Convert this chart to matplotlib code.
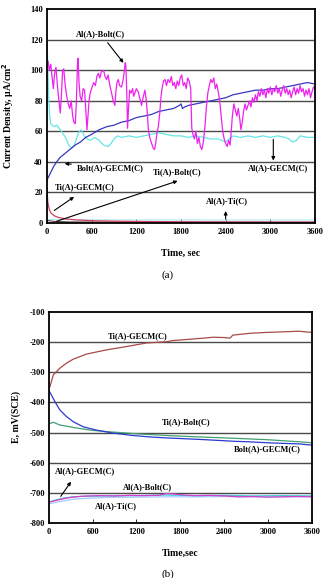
import matplotlib
matplotlib.use("Agg")
import matplotlib.pyplot as plt

plt.rcParams['font.family'] = ['Liberation Serif', 'DejaVu Serif']
plt.rcParams['font.weight'] = 'bold'

# ---- (a) current density, uA/cm2 ----
al_bolt_t = [0, 15, 30, 50, 70, 85, 100, 120, 140, 160, 178, 195, 210, 225, 245, 265, 285, 305, 325, 345,
             360, 380, 395, 410, 418, 430, 445, 465, 485, 505, 520, 537, 550, 565, 580, 600, 626, 650, 670, 690,
             710, 730, 760, 780, 800, 820, 845, 868, 890, 912, 925, 940, 957, 975, 1000, 1020, 1035, 1050, 1060, 1072,
             1082, 1095, 1110, 1130, 1150, 1165, 1180, 1200, 1225, 1245, 1270, 1290, 1315, 1335, 1350, 1362, 1380, 1405, 1427, 1445,
             1460, 1475, 1495, 1515, 1530, 1545, 1565, 1586, 1605, 1625, 1650, 1670, 1690, 1710, 1730, 1750, 1770, 1790, 1810, 1830,
             1850, 1870, 1890, 1910, 1930, 1945, 1960, 1980, 2000, 2020, 2040, 2060, 2080, 2100, 2120, 2140, 2160, 2180, 2200, 2220,
             2240, 2260, 2280, 2300, 2320, 2340, 2360, 2380, 2400, 2420, 2440, 2460, 2475, 2490, 2510, 2530, 2550, 2570, 2590, 2605,
             2620, 2640, 2660, 2680, 2700, 2720, 2740, 2760, 2780, 2800, 2820, 2840, 2860, 2880, 2900, 2920, 2940, 2960, 2980, 3000,
             3020, 3040, 3060, 3080, 3100, 3120, 3140, 3160, 3180, 3200, 3220, 3240, 3260, 3280, 3300, 3320, 3340, 3360, 3380, 3400,
             3420, 3440, 3460, 3480, 3500, 3520, 3540, 3560, 3580, 3600]
al_bolt_i = [103, 106, 100, 104, 95, 88, 97, 102, 90, 80, 72, 85, 100, 101, 90, 83, 78, 75, 80, 70,
             66, 65, 80, 105, 108, 92, 83, 80, 88, 87, 75, 61, 70, 80, 85, 88, 92, 90, 96, 98,
             95, 99, 100, 96, 94, 97, 90, 85, 80, 77, 86, 92, 94, 90, 89, 93, 98, 105, 103, 85,
             62, 75, 87, 85, 88, 83, 85, 88, 86, 82, 77, 82, 87, 80, 70, 61, 56, 52, 49, 48,
             52, 58, 63, 72, 82, 88, 93, 94, 90, 94, 92, 96, 90, 92, 88, 93, 90, 95, 97, 90,
             92, 88, 95, 93, 88, 62, 58, 55, 60, 52, 56, 50, 48, 53, 62, 75, 85, 90, 94, 92,
             95, 88, 91, 86, 80, 70, 60, 55, 52, 50, 54, 51, 60, 70, 78, 74, 70, 75, 68, 61,
             65, 73, 78, 74, 77, 80, 76, 82, 79, 84, 80, 86, 83, 88, 84, 87, 82, 88, 85, 89,
             84, 88, 86, 90, 85, 88, 83, 87, 90, 85, 88, 84, 87, 82, 86, 89, 84, 88, 85, 90,
             86, 88, 83, 87, 84, 88, 82, 86, 89, 88]

bolt_gecm_t = [0, 30, 60, 90, 130, 180, 230, 280, 330, 380, 450, 520, 600, 700, 800, 900, 1000, 1100, 1200, 1300,
               1400, 1500, 1600, 1700, 1780, 1800, 1820, 1850, 1900, 2000, 2100, 2200, 2300, 2400, 2500, 2600, 2700, 2800, 2900, 3000,
               3100, 3200, 3300, 3400, 3500, 3600]
bolt_gecm_i = [28, 31, 34, 37, 40, 43, 45, 47, 49, 51, 53, 56, 58, 61, 63, 64, 66, 67, 69, 70,
               71, 73, 74, 75, 77, 78, 75, 76, 77, 78, 79, 80, 81, 82, 84, 85, 86, 87, 87, 88,
               88, 89, 90, 91, 92, 91]

al_gecm_t = [0, 10, 20, 35, 50, 90, 130, 180, 220, 250, 290, 330, 360, 390, 420, 460, 500, 540, 580, 640,
             700, 760, 820, 860, 900, 950, 1000, 1100, 1200, 1300, 1400, 1500, 1600, 1700, 1800, 1900, 2000, 2100, 2200, 2300,
             2400, 2450, 2500, 2600, 2700, 2800, 2900, 3000, 3100, 3200, 3250, 3300, 3350, 3400, 3500, 3600]
al_gecm_i = [121, 105, 85, 70, 65, 63, 64, 61, 58, 56, 51, 49, 50, 54, 59, 61, 57, 55, 54, 56,
             54, 51, 50, 52, 55, 57, 56, 57, 56, 57, 58, 59, 58, 57, 57, 56, 57, 56, 55, 55,
             53, 55, 57, 56, 57, 56, 57, 56, 57, 56, 55, 53, 54, 57, 56, 56]

ti_gecm_t = [0, 5, 10, 20, 35, 60, 100, 150, 250, 400, 600, 900, 1200, 1800, 2400, 3000, 3600]
ti_gecm_i = [22, 18, 14, 11, 8, 6, 4.5, 3.5, 2.5, 1.8, 1.3, 1.0, 0.8, 0.6, 0.5, 0.4, 0.4]

ti_bolt_t = [0, 100, 300, 1200, 3600]
ti_bolt_i = [1.5, 0.8, 0.5, 0.3, 0.3]

al_ti_t = [0, 300, 1200, 2400, 3600]
al_ti_i = [2.2, 2.0, 1.8, 1.8, 1.8]

# ---- (b) potential, mV(SCE) ----
ti_gecm_et = [0, 14, 59, 150, 242, 333, 516, 790, 1064, 1338, 1612, 1700, 2069, 2250, 2400, 2480, 2520, 2750, 2980, 3200,
              3430, 3600]
ti_gecm_e = [-352, -348, -309, -286, -269, -256, -239, -225, -214, -202, -198, -194, -187, -183, -184, -186, -176, -170, -167, -165,
             -163, -167]

bolt_gecm_et = [0, 14, 82, 150, 242, 333, 470, 653, 882, 1154, 1400, 1612, 1800, 2069, 2300, 2525, 2750, 2982, 3200, 3440,
                3600]
bolt_gecm_e = [-362, -366, -397, -425, -447, -464, -481, -492, -502, -510, -515, -518, -520, -523, -526, -529, -531, -534, -536, -538,
               -542]

ti_bolt_et = [0, 14, 59, 150, 333, 562, 790, 1247, 1700, 2100, 2525, 3000, 3440, 3600]
ti_bolt_e = [-472, -470, -466, -475, -483, -492, -497, -505, -511, -515, -519, -524, -531, -534]

al_bolt_et = [0, 14, 80, 150, 250, 333, 450, 562, 700, 900, 1100, 1300, 1500, 1610, 1700, 1850, 2000, 2200, 2400, 2600,
              2800, 3000, 3200, 3400, 3600]
al_bolt_e = [-733, -731, -727, -723, -718, -715, -712, -711, -710, -711, -709, -710, -709, -703, -704, -708, -710, -709, -711, -714,
             -713, -715, -714, -713, -714]

al_gecm_et = [0, 14, 100, 200, 333, 500, 800, 1200, 1600, 2000, 2400, 2800, 3200, 3600]
al_gecm_e = [-732, -731, -724, -718, -714, -712, -711, -710, -708, -710, -709, -711, -710, -711]

al_ti_et = [0, 14, 100, 200, 333, 500, 800, 1200, 1600, 2000, 2400, 2800, 3200, 3600]
al_ti_e = [-738, -737, -732, -728, -722, -719, -716, -715, -714, -714, -713, -714, -714, -713]

x_ticks = [0, 600, 1200, 1800, 2400, 3000, 3600]

fig = plt.figure(figsize=(3.26, 5.78), dpi=100)
ax1 = fig.add_axes([0.1442, 0.6147, 0.822, 0.369])
ax2 = fig.add_axes([0.150, 0.0957, 0.806, 0.364])

tick_kw = dict(fontsize=6, fontweight='bold')
txt_kw = dict(fontsize=6, fontweight='bold')
arrow_kw = dict(arrowstyle='-|>', color='black', lw=0.8, mutation_scale=5)


def style(ax, ylim, yticks):
    ax.set_xlim(0, 3600)
    ax.set_ylim(*ylim)
    ax.set_xticks(x_ticks)
    ax.set_yticks(yticks)
    ax.set_xticklabels([str(t) for t in x_ticks], **tick_kw)
    ax.set_yticklabels([str(v) for v in yticks], **tick_kw)
    ax.tick_params(axis='x', direction='in', length=3, width=0.6, pad=4)
    ax.tick_params(axis='y', length=0, pad=3)
    for yv in yticks[1:-1]:
        ax.axhline(yv, color='#4a4a4a', lw=1.0, zorder=0)
    for s in ax.spines.values():
        s.set_linewidth(1.3)


# (a)
ax1.plot(ti_bolt_t, ti_bolt_i, color='#5a3a3a', lw=0.8)
ax1.plot(al_ti_t, al_ti_i, color='#b0e8f0', lw=0.8)
ax1.plot(ti_gecm_t, ti_gecm_i, color='#d04060', lw=0.9)
ax1.plot(al_gecm_t, al_gecm_i, color='#66e6e6', lw=0.9)
ax1.plot(bolt_gecm_t, bolt_gecm_i, color='#3838c0', lw=0.9)
ax1.plot(al_bolt_t, al_bolt_i, color='#ee22ee', lw=0.9)
style(ax1, (0, 140), [0, 20, 40, 60, 80, 100, 120, 140])
ax1.set_xlabel('Time, sec', fontsize=7, fontweight='bold', labelpad=9)
ax1.set_ylabel('Current Density, μA/cm$^\\mathbf{2}$', fontsize=7, fontweight='bold', labelpad=10)

ax1.annotate('Al(A)-Bolt(C)', xy=(1050, 103.5), xytext=(720, 124), ha='center', va='center',
             arrowprops=arrow_kw, **txt_kw)
ax1.annotate('Bolt(A)-GECM(C)', xy=(200, 39), xytext=(400, 36), ha='left', va='center',
             arrowprops=arrow_kw, **txt_kw)
ax1.annotate('', xy=(1790, 28), xytext=(90, 0.3), arrowprops=arrow_kw)
ax1.text(1420, 33, 'Ti(A)-Bolt(C)', ha='left', va='center', **txt_kw)
ax1.annotate('', xy=(395, 18), xytext=(67, 7), arrowprops=arrow_kw)
ax1.text(110, 23, 'Ti(A)-GECM(C)', ha='left', va='center', **txt_kw)
ax1.annotate('', xy=(3040, 39), xytext=(3040, 56.5), arrowprops=arrow_kw)
ax1.text(3100, 36, 'Al(A)-GECM(C)', ha='center', va='center', **txt_kw)
ax1.annotate('', xy=(2400, 9.5), xytext=(2400, 0.6), arrowprops=arrow_kw)
ax1.text(2420, 14.4, 'Al(A)-Ti(C)', ha='center', va='center', **txt_kw)
fig.text(0.515, 1 - 275 / 578, '(a)', ha='center', va='center', fontsize=8, fontweight='normal')

# (b)
ax2.plot(al_ti_et, al_ti_e, color='#a8c8ff', lw=0.9)
ax2.plot(al_gecm_et, al_gecm_e, color='#40c8d8', lw=0.9)
ax2.plot(al_bolt_et, al_bolt_e, color='#d040c8', lw=0.9)
ax2.plot(ti_bolt_et, ti_bolt_e, color='#40a070', lw=0.9)
ax2.plot(bolt_gecm_et, bolt_gecm_e, color='#2a3ad0', lw=0.9)
ax2.plot(ti_gecm_et, ti_gecm_e, color='#a84848', lw=0.9)
style(ax2, (-800, -100), [-800, -700, -600, -500, -400, -300, -200, -100])
ax2.set_xlabel('Time,sec', fontsize=7, fontweight='bold', labelpad=9)
ax2.set_ylabel('E, mV(SCE)', fontsize=7, fontweight='bold', labelpad=6)

ax2.text(1220, -179, 'Ti(A)-GECM(C)', ha='center', va='center', **txt_kw)
ax2.text(1880, -464, 'Ti(A)-Bolt(C)', ha='center', va='center', **txt_kw)
ax2.text(2990, -556, 'Bolt(A)-GECM(C)', ha='center', va='center', **txt_kw)
ax2.text(500, -627, 'Al(A)-GECM(C)', ha='center', va='center', **txt_kw)
ax2.annotate('', xy=(325, -656), xytext=(140, -720), arrowprops=arrow_kw)
ax2.text(1345, -682, 'Al(A)-Bolt(C)', ha='center', va='center', **txt_kw)
ax2.text(920, -745, 'Al(A)-Ti(C)', ha='center', va='center', **txt_kw)
fig.text(0.515, 1 - 574 / 578, '(b)', ha='center', va='center', fontsize=8, fontweight='normal')

fig.savefig('out.png', dpi=100)
